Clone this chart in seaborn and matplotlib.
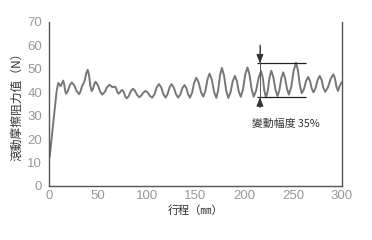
import matplotlib
matplotlib.use("Agg")
import matplotlib.pyplot as plt
import seaborn as sns
import pandas as pd

# stroke (mm) and rolling friction (N)
stroke = [0, 0.7, 7.8, 9.5, 12.0, 14.6, 15.5, 16.5, 17.4, 19.4, 21.3, 23.3, 25.8, 28.3,
          30.8, 32.2, 33.7, 35.1, 36.6, 38.1, 39.6, 41.0, 42.3, 43.7, 45.1, 46.4, 47.8,
          50.0, 52.3, 54.5, 57.0, 59.5, 62.0, 64.8, 67.6, 68.7, 69.9, 71.0, 72.3, 73.7,
          75.0, 76.5, 78.0, 79.5, 81.7, 83.8, 86.0, 88.1, 90.3, 92.4, 94.5, 96.7, 98.8,
          101.1, 103.4, 105.7, 108.0, 110.3, 112.6, 114.9, 117.1, 119.4, 121.4, 123.4,
          125.4, 127.7, 130.0, 132.3, 134.5, 136.6, 138.8, 140.6, 142.5, 144.3, 146.5,
          148.6, 150.8, 153.2, 155.6, 158.0, 160.1, 162.3, 164.4, 166.7, 169.0, 171.3,
          173.2, 175.1, 177.0, 179.2, 181.4, 183.6, 185.9, 188.1, 190.4, 192.4, 194.3,
          196.3, 198.6, 200.9, 203.2, 205.3, 207.5, 209.6, 212.1, 214.7, 217.2, 218.9,
          220.5, 222.2, 224.0, 225.8, 227.6, 229.7, 231.9, 234.0, 235.9, 237.9, 239.8,
          241.7, 243.7, 245.6, 248.1, 250.5, 253.0, 254.9, 256.9, 258.8, 261.0, 263.2,
          265.4, 267.2, 269.0, 270.8, 272.9, 275.1, 277.2, 279.1, 280.9, 282.8, 285.6,
          288.4, 291.2, 292.8, 294.3, 295.9, 297.5, 299.5]
force = [20, 12.5, 40.5, 44.0, 42.6, 45.0, 43.6, 40.8, 39.4, 40.6, 43.0, 44.2, 43.0, 40.5,
         39.2, 40.3, 42.5, 43.6, 45.1, 48.1, 49.6, 47.3, 42.8, 40.5, 41.5, 43.5, 44.5,
         43.1, 40.4, 39.0, 40.1, 42.2, 43.2, 42.2, 42.4, 41.7, 40.2, 39.4, 39.8, 40.6,
         41.0, 40.1, 38.3, 37.4, 38.4, 40.5, 41.5, 40.6, 38.8, 37.9, 38.6, 39.9, 40.6,
         39.9, 38.4, 37.7, 39.2, 42.1, 43.5, 42.1, 39.2, 37.7, 39.2, 42.1,
         43.5, 42.1, 39.2, 37.7, 39.1, 41.8, 43.1, 41.8, 39.1, 37.7, 39.8,
         44.1, 46.2, 44.2, 40.1, 38.1, 40.6, 45.5, 48.0, 45.4, 40.2, 37.6,
         40.8, 47.2, 50.4, 47.2, 40.8, 37.6, 40.0, 44.7, 47.0, 44.8, 40.3,
         38.1, 41.2, 47.5, 50.6, 47.5, 41.2, 38.1, 40.8, 46.3, 49.0, 46.2,
         40.6, 37.8, 40.7, 46.4, 49.2, 46.5, 41.1, 38.4, 40.9, 46.0, 48.5,
         46.1, 41.4, 39.0, 42.4, 49.2, 52.6, 49.4, 42.9, 39.6, 41.3, 44.8,
         46.5, 44.9, 41.6, 40.0, 41.8, 45.3, 47.0, 45.3, 41.9, 40.2, 42.1,
         45.8, 47.7, 45.9, 42.4, 40.6, 42.6, 44.2]

x_ticks = [0, 50, 100, 150, 200, 250, 300]
y_ticks = [0, 10, 20, 30, 40, 50, 60, 70]
band_top, band_bottom = 52.4, 37.8
band_x = [212.6, 263.0]
arrow_x = 216
note = "變動幅度 35%"
xlabel = "行程（㎜）"
ylabel = "滾動摩擦阻力值（N）"

sns.set_theme(style="white")
plt.rcParams['font.family'] = ['Liberation Sans', 'Noto Sans CJK TC', 'DejaVu Sans']

df = pd.DataFrame({"stroke": stroke, "force": force})

fig = plt.figure(figsize=(3.72, 2.40), dpi=100)
ax = fig.add_axes([49/372, 54/240, 293/372, 164/240])
sns.lineplot(data=df, x="stroke", y="force", ax=ax, color="#777777", lw=1.4,
             solid_joinstyle="round", sort=False)

ax.set_xlim(0, 300)
ax.set_ylim(0, 70)
ax.set_xticks(x_ticks)
ax.set_yticks(y_ticks)
ax.tick_params(axis="x", direction="in", length=2, width=0.6, colors="#999999",
               labelsize=9.5, pad=3)
ax.tick_params(axis="y", direction="out", length=2, width=0.6, colors="#999999",
               labelsize=9.5, pad=3)
for s in ["left", "bottom", "right"]:
    ax.spines[s].set_color("#555555")
    ax.spines[s].set_linewidth(1.0)
ax.spines["top"].set_visible(False)

cjk = ['Noto Sans CJK TC', 'DejaVu Sans']
ax.set_xlabel(xlabel, fontsize=8, color="#333333", family=cjk, labelpad=2)
ax.set_ylabel(ylabel, fontsize=8.5, color="#333333", family=cjk, labelpad=3)

# amplitude band
ax.hlines([band_top, band_bottom], band_x[0], band_x[1], color="#222222", lw=0.9)
ax.vlines(arrow_x, 33.6, 60.2, color="#555555", lw=0.7)
ax.annotate("", xy=(arrow_x, band_top), xytext=(arrow_x, 60.2),
            arrowprops=dict(arrowstyle="-|>,head_length=0.45,head_width=0.18",
                            color="#333333", lw=0.7, shrinkA=0, shrinkB=0))
ax.annotate("", xy=(arrow_x, band_bottom), xytext=(arrow_x, 33.6),
            arrowprops=dict(arrowstyle="-|>,head_length=0.45,head_width=0.18",
                            color="#333333", lw=0.7, shrinkA=0, shrinkB=0))
ax.text(207.5, 26.7, note, fontsize=7.8, color="#333333", family=cjk,
        ha="left", va="center")

fig.savefig("out.png", dpi=100)
